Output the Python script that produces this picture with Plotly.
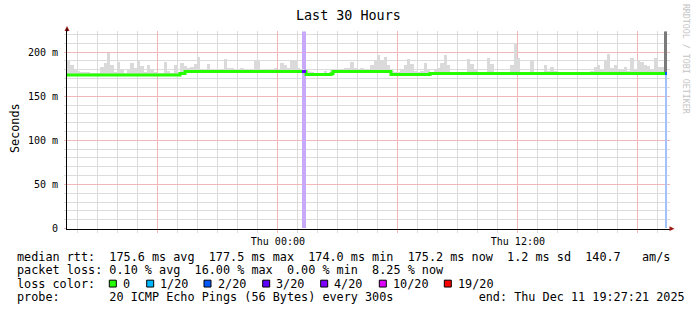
import plotly.graph_objects as go
import pandas as pd
import numpy as np

W, H = 697, 321

# ---------------- data ----------------
start_time = "2025-12-10 13:27:21"
end_time = "2025-12-11 19:27:21"
axis_end_time = "2025-12-11 19:36:21"

median_times = ["2025-12-10 13:27:21", "2025-12-10 19:06:21", "2025-12-10 19:21:21",
                "2025-12-11 01:24:21", "2025-12-11 02:39:21", "2025-12-11 02:45:21",
                "2025-12-11 05:39:21", "2025-12-11 07:36:21", "2025-12-11 19:27:21"]
median_values = [174.1, 175.6, 177.8, 174.4, 175.5, 178.0, 174.6, 175.7, 175.7]

lossy_start = ["2025-12-11 01:12:21", "2025-12-11 19:21:21"]
lossy_end = ["2025-12-11 01:24:21", "2025-12-11 19:27:21"]
lossy_value = [177.8, 175.7]
lossy_color = ["#5e00ff", "#0059ff"]

band_start = ["2025-12-11 01:12:21", "2025-12-11 19:20:21"]
band_end = ["2025-12-11 01:24:21", "2025-12-11 19:26:21"]
band_color = ["#c8a8fa", "#a4c2fa"]

smoke_bin_minutes = 10
smoke_top = [
    189, 185, 179, 178, 177, 177, 177, 176, 176, 176,
    183, 187, 198, 185, 177, 188, 179, 176, 179, 187,
    181, 190, 184, 177, 185, 180, 177, 176, 176, 188,
    178, 176, 185, 177, 187, 184, 182, 183, 186, 194,
    180, 179, 186, 179, 179, 179, 180, 192, 182, 181,
    179, 179, 181, 179, 179, 179, 189, 189, 178, 178,
    178, 178, 181, 179, 187, 185, 181, 191, 191, 181,
    180, 176, 178, 177, 176, 176, 176, 178, 176, 179,
    180, 180, 180, 181, 181, 188, 182, 180, 181, 180,
    180, 185, 190, 196, 190, 194, 185, 178, 177, 177,
    180, 185, 192, 186, 178, 177, 178, 187, 179, 177,
    180, 181, 187, 196, 185, 176, 176, 177, 176, 176,
    192, 186, 180, 176, 177, 176, 193, 186, 176, 176,
    177, 177, 177, 185, 209, 193, 176, 177, 176, 189,
    177, 177, 177, 185, 178, 183, 178, 177, 177, 177,
    176, 177, 176, 177, 176, 177, 176, 178, 183, 185,
    179, 190, 197, 182, 185, 180, 179, 183, 178, 193,
    180, 190, 188, 185, 184, 180, 193, 183, 183, 240,
]
smoke_shade = ["#dadada"] * 179 + ["#7a7a7a"]

y_tickvals = [0, 50, 100, 150, 200]
y_ticktext = ["0", "50 m", "100 m", "150 m", "200 m"]
x_tickvals = ["2025-12-10 18:00", "2025-12-11 00:00", "2025-12-11 06:00",
              "2025-12-11 12:00", "2025-12-11 18:00"]
x_ticktext = ["", "Thu 00:00", "", "Thu 12:00", ""]

loss_labels = ["0", "1/20", "2/20", "3/20", "4/20", "10/20", "19/20"]
loss_colors = ["#26ff00", "#00b8ff", "#0059ff", "#5e00ff", "#7e00ff", "#dd00ff", "#ff0000"]

legend_rtt = "median rtt:  175.6 ms avg  177.5 ms max  174.0 ms min  175.2 ms now  1.2 ms sd  140.7   am/s"
legend_loss = "packet loss: 0.10 % avg  16.00 % max  0.00 % min  8.25 % now"
legend_probe = "probe:       20 ICMP Echo Pings (56 Bytes) every 300s            end: Thu Dec 11 19:27:21 2025"

# ---------------- helpers ----------------
def px(x):
    return x / W

def py(y):
    return 1 - y / H

MONO = "DejaVu Sans Mono"

t0 = pd.Timestamp(start_time)
med_t = pd.to_datetime(median_times)
n_bins = len(smoke_top)
centers = [t0 + pd.Timedelta(minutes=smoke_bin_minutes * (i + 0.5)) for i in range(n_bins)]
idx = np.searchsorted(med_t.values, np.array(centers, dtype="datetime64[ns]"), side="right") - 1
base = [median_values[k] - 1.0 for k in idx]
heights = [max(smoke_top[i] - base[i], 0) for i in range(n_bins)]

fig = go.Figure()
YMAX = 201 / 0.9

for s, e, c in zip(band_start, band_end, band_color):
    ts, te = pd.Timestamp(s), pd.Timestamp(e)
    fig.add_trace(go.Bar(x=[ts + (te - ts) / 2], y=[YMAX], base=[0],
                         width=[(te - ts).total_seconds() * 1000],
                         marker=dict(color=c, line=dict(width=0)),
                         hoverinfo="skip", showlegend=False))

fig.add_trace(go.Bar(x=centers, y=heights, base=base,
                     width=[smoke_bin_minutes * 60000] * n_bins,
                     marker=dict(color=smoke_shade, line=dict(width=0)),
                     showlegend=False, hoverinfo="skip"))

fig.add_trace(go.Scatter(x=median_times, y=median_values, mode="lines",
                         line=dict(color="#26ff00", width=3, shape="hv"),
                         showlegend=False))
for s, e, v, c in zip(lossy_start, lossy_end, lossy_value, lossy_color):
    fig.add_trace(go.Scatter(x=[s, e], y=[v, v], mode="lines",
                             line=dict(color=c, width=3), showlegend=False))

MINOR_GRID = "#dcdcdc"
MAJOR_GRID = "#f0b8b8"

fig.update_layout(
    width=W, height=H,
    margin=dict(l=0, r=0, t=0, b=0),
    paper_bgcolor="white", plot_bgcolor="white",
    barmode="overlay", bargap=0,
    showlegend=False,
    xaxis=dict(
        domain=[px(67), px(670)],
        type="date",
        range=[start_time, axis_end_time],
        tickmode="array", tickvals=x_tickvals, ticktext=x_ticktext,
        showgrid=True, gridcolor=MAJOR_GRID, gridwidth=1,
        ticks="outside", ticklen=3, tickcolor=MAJOR_GRID,
        tickfont=dict(family=MONO, size=10, color="#000"),
        minor=dict(tick0="2025-12-10 14:00:00", dtick=3600000, showgrid=True,
                   gridcolor=MINOR_GRID, gridwidth=1, ticks="outside", ticklen=3,
                   tickcolor=MINOR_GRID),
        showline=True, linecolor="#000", linewidth=1,
        zeroline=False, fixedrange=True,
    ),
    yaxis=dict(
        domain=[py(233), py(32)],
        range=[0, YMAX],
        tickmode="array", tickvals=y_tickvals, ticktext=y_ticktext,
        showgrid=True, gridcolor=MAJOR_GRID, gridwidth=1,
        ticks="outside", ticklen=2, tickcolor=MAJOR_GRID,
        tickfont=dict(family=MONO, size=10, color="#000"),
        ticklabelstandoff=4,
        minor=dict(tick0=0, dtick=10, showgrid=True, gridcolor=MINOR_GRID,
                   gridwidth=1, ticks="outside", ticklen=2, tickcolor=MINOR_GRID),
        showline=True, linecolor="#000", linewidth=1,
        zeroline=False, fixedrange=True,
    ),
)

shapes = []
shapes.append(dict(type="path", xref="paper", yref="paper",
                   path=f"M {px(64.5)},{py(31.5)} L {px(69.5)},{py(31.5)} L {px(67)},{py(26.5)} Z",
                   fillcolor="#a01818", line=dict(width=0)))
shapes.append(dict(type="path", xref="paper", yref="paper",
                   path=f"M {px(669.5)},{py(230.5)} L {px(669.5)},{py(235.5)} L {px(674.5)},{py(233)} Z",
                   fillcolor="#a01818", line=dict(width=0)))
shapes.append(dict(type="line", xref="paper", yref="paper",
                   x0=px(67), x1=px(67), y0=py(32), y1=py(29), line=dict(color="#000", width=1)))

annotations = []
annotations.append(dict(text="Last 30 Hours", x=px(348.5), y=py(16), xref="paper", yref="paper",
                        xanchor="center", yanchor="middle", showarrow=False,
                        font=dict(family=MONO, size=13.4, color="#000")))
annotations.append(dict(text="Seconds", x=px(15), y=py(130.5), xref="paper", yref="paper",
                        xanchor="center", yanchor="middle", textangle=-90, showarrow=False,
                        font=dict(family=MONO, size=11.8, color="#000")))
annotations.append(dict(text="RRDTOOL / TOBI OETIKER", x=px(686), y=py(60), xref="paper", yref="paper",
                        xanchor="center", yanchor="middle", textangle=90, showarrow=False,
                        font=dict(family=MONO, size=8.3, color="#c4c4c4")))

def legend_line(text, x, y):
    annotations.append(dict(text=text.replace(" ", "\u00a0"), x=px(x), y=py(y),
                            xref="paper", yref="paper", xanchor="left", yanchor="middle",
                            showarrow=False, font=dict(family=MONO, size=11.8, color="#000")))

legend_line(legend_rtt, 15.2, 261.5)
legend_line(legend_loss, 15.2, 275)
legend_line("loss color:", 15.2, 289)
legend_line(legend_probe, 15.2, 303)

box_x = [109.3, 146.7, 204.0, 262.7, 320.7, 379.3, 444.3]
for lab, col, bx in zip(loss_labels, loss_colors, box_x):
    shapes.append(dict(type="rect", xref="paper", yref="paper",
                       x0=px(bx), x1=px(bx + 7), y0=py(292.5), y1=py(285.5),
                       fillcolor=col, line=dict(color="#000", width=1)))
    legend_line(lab, bx + 11.5, 289)

fig.update_layout(shapes=shapes, annotations=annotations)
fig.write_html("out.html")
